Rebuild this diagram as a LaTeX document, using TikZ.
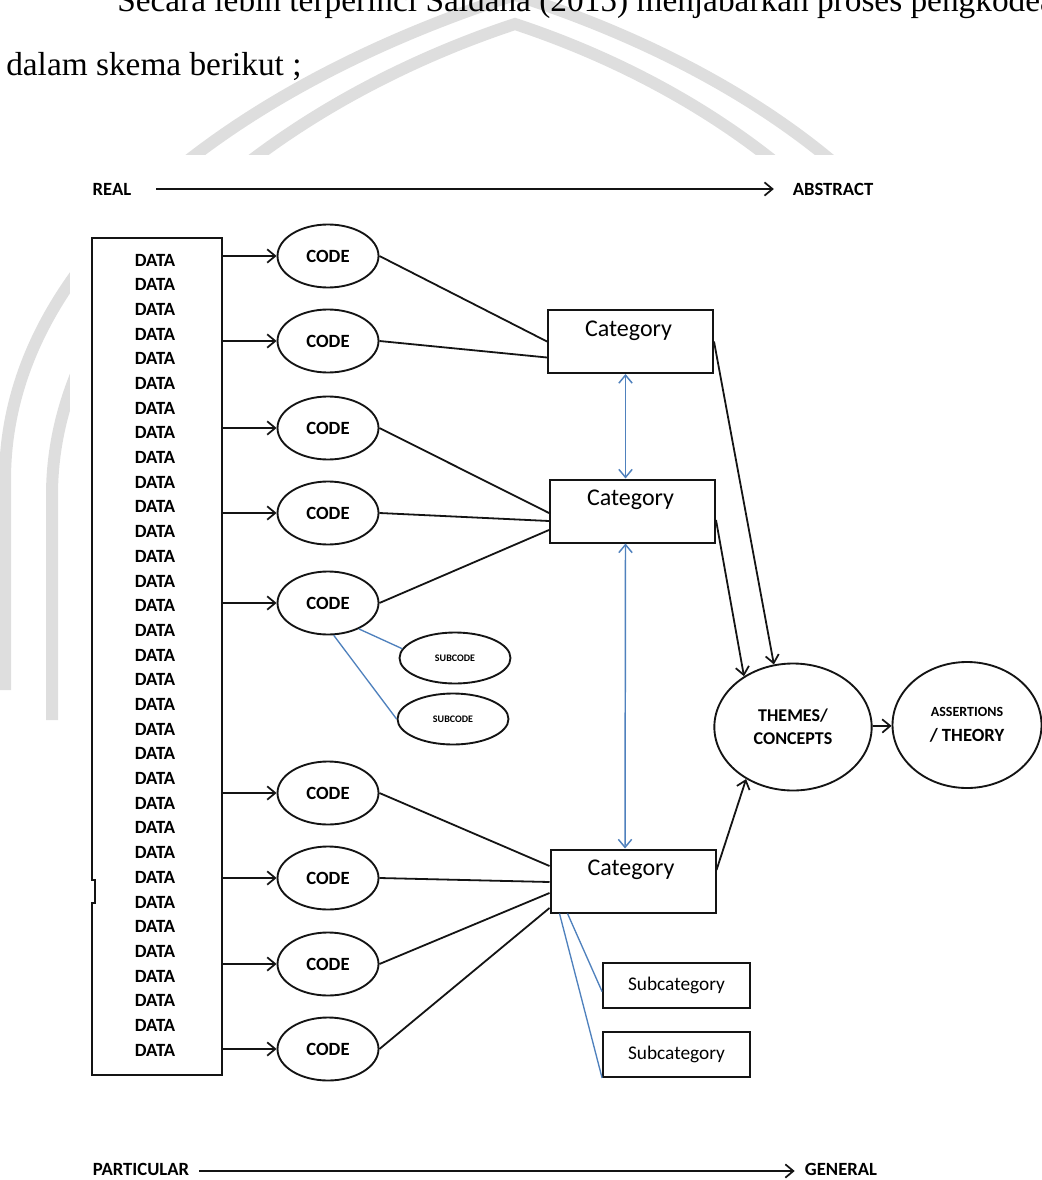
\documentclass[tikz,border=0pt]{standalone}
\usepackage{fontspec}
\setmainfont{Liberation Serif}
\newfontfamily\carlito{Carlito}
\usepackage{tikz}
\usepackage{xcolor}
\usetikzlibrary{arrows.meta,positioning,shapes.geometric,calc}
\definecolor{ink}{HTML}{141414}
\definecolor{linkblue}{HTML}{4F81BD}
\definecolor{wmgray}{HTML}{DEDEDE}
\tikzset{
  bodytext/.style={inner sep=0pt,anchor=base west,font=\fontsize{25}{30}\selectfont},
  axislbl/.style={inner sep=0pt,font=\carlito\bfseries\fontsize{14}{16}\selectfont},
  databox/.style={draw=ink,line width=1.4pt,minimum width=97.5pt,minimum height=627.75pt},
  datatext/.style={inner sep=0pt,font=\carlito\bfseries\fontsize{14}{16}\selectfont},
  codeell/.style={ellipse,draw=ink,line width=1.4pt,inner sep=0pt,
                  minimum width=75.75pt,minimum height=47.25pt,
                  font=\carlito\bfseries\fontsize{14}{16}\selectfont},
  subell/.style={ellipse,draw=ink,line width=1.4pt,inner sep=0pt,
                 minimum width=83.25pt,minimum height=38.25pt,
                 font=\carlito\bfseries\fontsize{7.5}{8}\selectfont},
  catbox/.style={draw=ink,line width=1.5pt,minimum width=123.75pt,minimum height=47.25pt},
  cattext/.style={inner sep=0pt,anchor=base,font=\carlito\fontsize{18}{21}\selectfont},
  subcatbox/.style={draw=ink,line width=1.4pt,minimum width=110.25pt,minimum height=33.75pt,
                    inner sep=0pt,font=\carlito\fontsize{14.5}{17}\selectfont},
  themeell/.style={ellipse,draw=ink,line width=1.4pt,inner sep=0pt,align=center,
                   font=\carlito\bfseries\fontsize{13.5}{17}\selectfont},
  blackarr/.style={-{Straight Barb[length=6pt,width=10pt,line width=1.3pt]},line width=1.35pt,draw=ink},
  blackline/.style={line width=1.35pt,draw=ink},
  bluearr/.style={{Straight Barb[length=6pt,width=10pt]}-{Straight Barb[length=6pt,width=10pt]},
                  line width=1.1pt,draw=linkblue},
  blueline/.style={line width=1pt,draw=linkblue},
  wmband/.style={draw=wmgray,line width=9pt}
}

\begin{document}
\begin{tikzpicture}[x=0.75pt,y=-0.75pt]
  \useasboundingbox (0,0) rectangle (1041,1180);
  % watermark behind the page
  \draw[wmband] (5,690) -- (5,480) .. controls (5,250) and (250,80) .. (515,-5)
    .. controls (780,80) and (1000,250) .. (1000,480);
  \draw[wmband] (52,720) -- (52,495) .. controls (52,285) and (270,105) .. (515,24)
    .. controls (760,105) and (960,285) .. (960,495);
  \fill[white] (70,155) rectangle (1070,1200);

  % paragraph text
  \node[bodytext] (para1) at (117,12)
    {Secara lebih terperinci Saldana (2015) menjabarkan proses pengkodean};
  \node[bodytext] (para2) at (6,76) {dalam skema berikut ;};

  % axes
  \node[axislbl] (real) at (112,189) {REAL};
  \node[axislbl] (abstract) at (833,189) {ABSTRACT};
  \draw[blackarr,shorten <=18.5pt,shorten >=14pt] (real) -- (abstract);
  \node[axislbl,anchor=base] (particular) at (141,1175) {PARTICULAR};
  \node[axislbl,anchor=base] (general) at (841,1175) {GENERAL};
  \draw[blackarr,shorten <=7.5pt,shorten >=7.5pt]
    ($(particular.base east)+(0,-4)$) -- ($(general.base west)+(0,-4)$);

  % data column
  \node[databox] (datab) at (157,656.5) {};
  \fill[white] (90,881) rectangle (94.5,902);
  \draw[blackline] (datab.west |- 0,880) -- ++(4,0) -- ++(0,23) -- ++(-4,0);
  \foreach \i in {0,...,32}
    \node[datatext] (data\i) at (155,260+24.69*\i) {DATA};

  % codes
  \foreach \n/\y in {1/256,2/341,3/428,4/513,5/603,6/793,7/878,8/964,9/1049}{
    \node[codeell] (code\n) at (328,\y) {CODE};
    \draw[blackarr] (code\n.west -| datab.east) -- (code\n.west);
  }

  % categories
  \node[catbox] (cat1) at (630.5,341.5) {};
  \node[catbox] (cat2) at (632.5,511) {};
  \node[catbox] (cat3) at (633,881) {};
  \foreach \c in {1,2,3}
    \node[cattext] (cat\c txt) at ($(cat\c.north)+(-2,27)$) {Category};

  \foreach \n/\c/\dy in {1/1/0,2/1/16,3/2/2,4/2/10,5/2/19,6/3/-15,7/3/1,8/3/12,9/3/27}
    \draw[blackline] (code\n.east) -- ($(cat\c.west)+(0,\dy)$);

  \draw[bluearr] ($(cat1.south)+(-5,0)$) -- ($(cat2.north)+(-7,0)$);
  \draw[bluearr] ($(cat2.south)+(-7,0)$) -- ($(cat3.north)+(-8,0)$);

  % subcodes
  \node[subell] (sub1) at (455,658) {SUBCODE};
  \node[subell] (sub2) at (453,719) {SUBCODE};
  \draw[blueline] (code5.-40) -- (sub1.170);
  \draw[blueline] (code5.-80) -- (sub2.west);

  % subcategories
  \node[subcatbox] (subcat1) at (676.5,985.5) {Subcategory};
  \node[subcatbox] (subcat2) at (676.5,1054.5) {Subcategory};
  \draw[blueline] ($(cat3.south west)+(18,0)$) -- ($(subcat1.west)+(0,6)$);
  \draw[blueline] ($(cat3.south west)+(10,0)$) -- (subcat2.south west);

  % themes and theory
  \node[themeell,minimum width=118pt,minimum height=95.25pt] (themes) at (793,727)
    {THEMES/\\CONCEPTS};
  \node[themeell,minimum width=111.75pt,minimum height=94.5pt] (assert) at (967,725)
    {{\fontsize{10.5}{12}\selectfont ASSERTIONS}\\[2pt]{\fontsize{14}{16}\selectfont / THEORY}};
  \draw[blackarr] (cat1.east) -- (themes.107);
  \draw[blackarr] ($(cat2.east)+(0,9)$) -- (themes.134);
  \draw[blackarr] ($(cat3.east)+(0,-11)$) -- (themes.228);
  \draw[blackarr] (themes) -- (assert);
\end{tikzpicture}
\end{document}
